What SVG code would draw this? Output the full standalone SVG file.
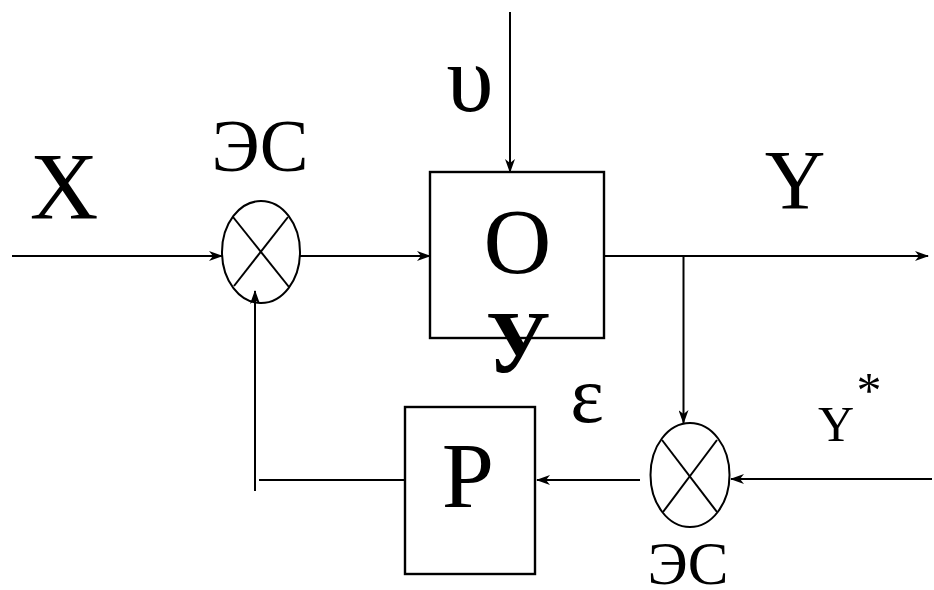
<svg xmlns="http://www.w3.org/2000/svg" width="934" height="590" viewBox="0 0 934 590">
<defs>
<style>
.ln{fill:none;stroke:#000;stroke-width:2}
.bx{fill:none;stroke:#000;stroke-width:2.4}
text{fill:#000;text-anchor:middle;font-family:"Liberation Serif","Times New Roman",serif}
</style>
<marker id="ar" markerWidth="14" markerHeight="10" refX="13" refY="5" orient="auto" markerUnits="userSpaceOnUse" viewBox="0 0 14 10">
<path d="M0,0 L14,5 L0,10 L4,5 z" fill="#000"/>
</marker>
</defs>
<rect width="934" height="590" fill="#fff"/>
<g id="connectors">
<line class="ln" x1="12" y1="256" x2="222" y2="256" marker-end="url(#ar)"/>
<line class="ln" x1="300" y1="256" x2="430" y2="256" marker-end="url(#ar)"/>
<line class="ln" x1="510" y1="12" x2="510" y2="172" marker-end="url(#ar)"/>
<line class="ln" x1="604" y1="256" x2="928" y2="256" marker-end="url(#ar)"/>
<line class="ln" x1="683.5" y1="256" x2="683.5" y2="423" marker-end="url(#ar)"/>
<line class="ln" x1="932" y1="479" x2="731" y2="479" marker-end="url(#ar)"/>
<line class="ln" x1="640" y1="480" x2="537" y2="480" marker-end="url(#ar)"/>
<line class="ln" x1="405" y1="480" x2="259" y2="480"/>
<line class="ln" x1="255" y1="491" x2="255" y2="291" marker-end="url(#ar)"/>
</g>
<g id="sum1">
<ellipse class="ln" cx="261" cy="252" rx="39" ry="51"/>
<line class="ln" x1="233" y1="217" x2="289" y2="287"/>
<line class="ln" x1="288" y1="217" x2="234" y2="286"/>
<text x="260" y="171" font-size="73">ЭС</text>
</g>
<g id="object">
<rect class="bx" x="430" y="172" width="174" height="166"/>
<text x="517.5" y="273" font-size="94">O</text>
</g>
<g id="sum2">
<ellipse class="ln" cx="690" cy="475" rx="39.5" ry="52"/>
<line class="ln" x1="662" y1="440" x2="717" y2="512"/>
<line class="ln" x1="717" y1="440" x2="663" y2="512"/>
<text x="688" y="584" font-size="61">ЭС</text>
</g>
<g id="regulator">
<rect class="bx" x="405" y="407" width="130" height="167"/>
<text x="468" y="507" font-size="94">P</text>
</g>
<g id="labels">
<text x="64" y="219" font-size="95">X</text>
<text x="470" y="111" font-size="95">υ</text>
<text x="795" y="209" font-size="84">Y</text>
<text x="518" y="372" font-size="88" font-weight="bold">У</text>
<text x="587" y="422" font-size="80">ε</text>
<text x="836" y="441" font-size="50">Y</text>
<text x="869" y="407" font-size="50">*</text>
</g>
</svg>
